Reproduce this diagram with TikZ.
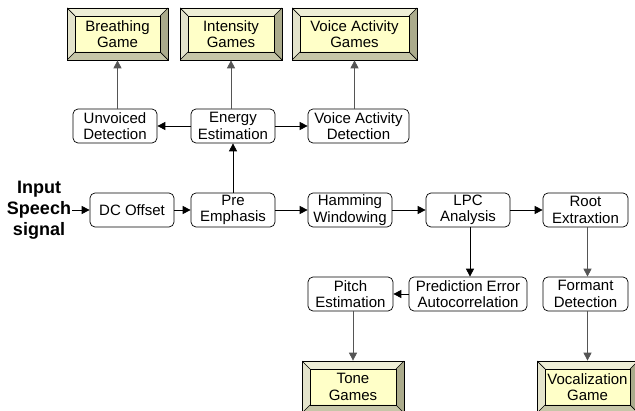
\documentclass[tikz,border=0pt]{standalone}
\usepackage{fontspec}
\setmainfont{Liberation Sans}
\usetikzlibrary{arrows.meta}
\definecolor{gamefill}{HTML}{FFFFC8}
\definecolor{bevtop}{HTML}{EEEED6}
\definecolor{bevleft}{HTML}{E4E4CC}
\definecolor{bevright}{HTML}{ABAB8C}
\definecolor{bevbottom}{HTML}{C6C6A8}
\definecolor{gameline}{HTML}{555555}
\begin{document}
\begin{tikzpicture}[x=1pt,y=-1pt,
  font=\fontsize{15}{16.5}\selectfont,
  stage/.style={draw,rounded corners=5pt,minimum width=84pt,minimum height=34pt,inner sep=0pt,align=center,line width=0.7pt},
  game/.style={draw,fill=gamefill,minimum width=101pt,minimum height=52pt,inner sep=0pt,align=center,line width=0.7pt,
    path picture={
      \fill[bevtop] (path picture bounding box.north west) -- (path picture bounding box.north east)
        -- ([shift={(-8pt,-8pt)}]path picture bounding box.north east) -- ([shift={(8pt,-8pt)}]path picture bounding box.north west) -- cycle;
      \fill[bevleft] (path picture bounding box.north west) -- ([shift={(8pt,-8pt)}]path picture bounding box.north west)
        -- ([shift={(8pt,8pt)}]path picture bounding box.south west) -- (path picture bounding box.south west) -- cycle;
      \fill[bevright] (path picture bounding box.north east) -- ([shift={(-8pt,-8pt)}]path picture bounding box.north east)
        -- ([shift={(-8pt,8pt)}]path picture bounding box.south east) -- (path picture bounding box.south east) -- cycle;
      \fill[bevbottom] (path picture bounding box.south west) -- ([shift={(8pt,8pt)}]path picture bounding box.south west)
        -- ([shift={(-8pt,8pt)}]path picture bounding box.south east) -- (path picture bounding box.south east) -- cycle;
      \draw[line width=0.7pt] ([shift={(8pt,-8pt)}]path picture bounding box.north west) rectangle ([shift={(-8pt,8pt)}]path picture bounding box.south east);
      \draw[line width=0.7pt] (path picture bounding box.north west) -- ++(8pt,-8pt)
        (path picture bounding box.north east) -- ++(-8pt,-8pt)
        (path picture bounding box.south west) -- ++(8pt,8pt)
        (path picture bounding box.south east) -- ++(-8pt,8pt);
    }},
  flow/.style={-{Triangle[length=8pt,width=8pt]},line width=0.8pt},
  toGame/.style={flow,gameline}]
\useasboundingbox (0,0) rectangle (635,411);
\clip (0,0) rectangle (635,411);

\node (breath) [game] at (117.5,34) {Breathing\\Game};
\node (intens) [game,minimum width=102pt] at (231,34) {Intensity\\Games};
\node (vagame) [game,minimum width=125pt] at (354.5,34) {Voice Activity\\Games};

\node (unvoiced) [stage] at (115,126) {Unvoiced\\Detection};
\node (energy) [stage] at (233,126) {Energy\\Estimation};
\node (vad) [stage,minimum width=101pt] at (358.5,126) {Voice Activity\\Detection};

\node (input) [font=\fontsize{18}{21}\selectfont\bfseries,align=center,inner sep=1pt] at (39,210) {Input\\Speech\\signal};
\node (dc) [stage] at (132,210) {DC Offset};
\node (pre) [stage] at (233,210) {Pre\\Emphasis};
\node (hamming) [stage] at (350,210) {Hamming\\Windowing};
\node (lpc) [stage] at (468,210) {LPC\\Analysis};
\node (root) [stage,minimum width=85pt] at (585.5,210) {Root\\Extraxtion};

\node (pitch) [stage,minimum width=85pt] at (350.5,294) {Pitch\\Estimation};
\node (prederr) [stage,minimum width=118pt] at (468,294) {Prediction Error\\Autocorrelation};
\node (formant) [stage,minimum width=85pt] at (585.5,294) {Formant\\Detection};

\node (tone) [game,minimum width=102pt] at (353,387) {Tone\\Games};
\node (vocal) [game] at (587.5,387) {Vocalization\\Game};

\draw [flow] (input) -- (dc);
\draw [flow] (dc) -- (pre);
\draw [flow] (pre) -- (hamming);
\draw [flow] (hamming) -- (lpc);
\draw [flow] (lpc) -- (root);
\draw [flow] (pre) -- (energy);
\draw [flow] (energy) -- (unvoiced);
\draw [flow] (energy) -- (vad);
\draw [toGame] (unvoiced.north -| breath) -- (breath);
\draw [toGame] (energy.north -| intens) -- (intens);
\draw [toGame] (vad.north -| vagame) -- (vagame);
\draw [flow] (lpc.south -| 470,0) -- (prederr.north -| 470,0);
\draw [flow] (prederr) -- (pitch);
\draw [toGame] (root.south -| vocal) -- (formant.north -| vocal);
\draw [toGame] (pitch.south -| tone) -- (tone);
\draw [toGame] (formant.south -| vocal) -- (vocal);
\end{tikzpicture}
\end{document}
